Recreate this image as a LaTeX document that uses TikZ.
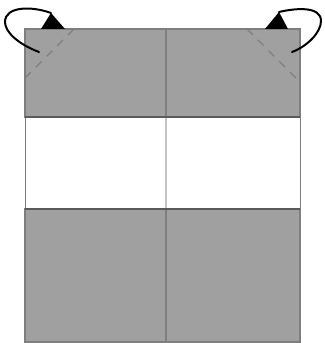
\documentclass[tikz,border=0pt]{standalone}
\usepackage{xcolor}
\usetikzlibrary{positioning, calc}
\definecolor{cellfill}{HTML}{A0A0A0}
\definecolor{cellline}{HTML}{7E7E7E}
\definecolor{bandline}{HTML}{C4C4C4}
\definecolor{edgeline}{HTML}{5A5A5A}

\begin{document}
\begin{tikzpicture}[x=0.03cm, y=-0.03cm, node distance=0cm and 0cm,
      every node/.style={outer sep=0pt, inner sep=0pt},
      grey left/.style={draw=cellline, fill=cellfill, line width=1pt, minimum width=4.23cm},
      grey right/.style={draw=cellline, fill=cellfill, line width=1pt, minimum width=4.02cm},
      band left/.style={minimum width=4.23cm, minimum height=2.76cm},
      band right/.style={minimum width=4.02cm, minimum height=2.76cm},
      fold/.style={dashed, dash pattern=on 7pt off 6pt, color=cellline, line width=1.1pt},
      turn/.style={line width=1.7pt, line cap=round}]

    \useasboundingbox (0,0) rectangle (324,343);

    \node[grey left, minimum height=2.64cm, anchor=north west] (topL) at (25,29) {};
    \node[right=of topL, grey right, minimum height=2.64cm] (topR) {};
    \node[below=of topL, band left] (midL) {};
    \node[below=of topR, band right] (midR) {};
    \node[below=of midL, grey left, minimum height=3.99cm] (botL) {};
    \node[below=of midR, grey right, minimum height=3.99cm] (botR) {};

    % white band
    \draw[color=cellline, line width=0.8pt] (midL.north west) -- (midL.south west);
    \draw[color=cellline, line width=0.8pt] (midR.north east) -- (midR.south east);
    \draw[color=bandline, line width=1.2pt] (midL.north east) -- (midL.south east);
    \draw[color=edgeline, line width=1pt] (topL.south west) -- (topR.south east);
    \draw[color=edgeline, line width=1pt] (botL.north west) -- (botR.north east);

    % folds
    \coordinate (foldLa) at (25,78);
    \coordinate (foldLb) at (74,29);
    \coordinate (foldRa) at (247,29);
    \coordinate (foldRb) at (298,80);
    \draw[fold] (foldLa) -- (foldLb);
    \draw[fold] (foldRa) -- (foldRb);

    % turning arrows
    \coordinate (tipL) at (51,13);
    \coordinate (tipR) at (279,12);
    \coordinate (startL) at (39,52);
    \coordinate (startR) at (292,52);
    \fill (41,29) -- (tipL) -- (65,29) -- cycle;
    \fill (265,29) -- (tipR) -- (288,29) -- cycle;
    \draw[turn] (startL) .. controls (18,44) and (5,32) .. (5,22) .. controls (5,6) and (32,6) .. (tipL);
    \draw[turn] (startR) .. controls (308,46) and (321,32) .. (321,21) .. controls (321,6) and (296,8) .. (tipR);
  \end{tikzpicture}
\end{document}
